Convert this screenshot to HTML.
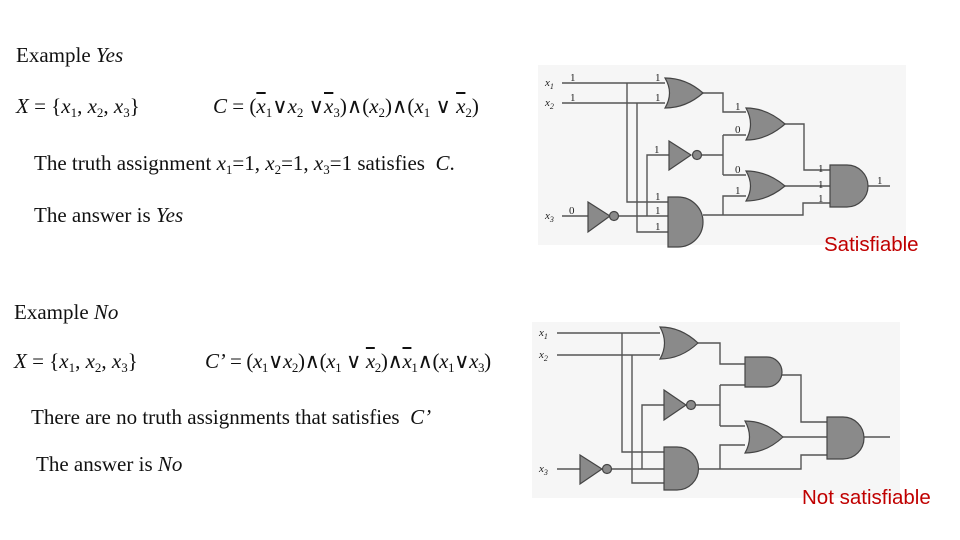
<!DOCTYPE html>
<html><head><meta charset="utf-8"><style>
body{margin:0;width:960px;height:540px;background:#fff;position:relative;overflow:hidden;font-family:"Liberation Serif",serif;color:#111}
.t{position:absolute;font-size:21px;line-height:21px;white-space:nowrap}
i{font-style:italic}
sub{font-size:13px;vertical-align:-4px;line-height:0}
.o{text-decoration:overline}
.r{position:absolute;font-family:"Liberation Sans",sans-serif;color:#c00000;font-size:20.5px;line-height:20px;z-index:5}
svg{position:absolute;left:0;top:0}
</style></head><body>
<svg width="960" height="540" viewBox="0 0 960 540">
<rect x="538" y="65" width="368" height="180" fill="#f6f6f6"/>
<rect x="532" y="322" width="368" height="176" fill="#f6f6f6"/>
<g stroke="#555" stroke-width="1.4" fill="none">
<path d="M562 83H665M562 103H665M703 93H723V112H746M785 124H804V170H830M785 186H830M868 186H890"/>
<path d="M702 155H723M723 135V175M723 135H746M723 175H746"/>
<path d="M703 215H803V203H830M723 215V196H746"/>
<path d="M562 216H588M618 216H668M627 83V202H668M637 103V232H668M647 216V155H669"/>
<path d="M557 333H660M557 355H660M698 343H720V364H745M782 375H801V422H827M783 437H827M864 437H890"/>
<path d="M696 405H720M720 385V426M720 385H745M720 426H745"/>
<path d="M699 469H801V455H827M720 469V445H745"/>
<path d="M557 469H580M612 469H664M622 333V452H664M632 355V483H664M642 469V405H664"/>
</g>
<g fill="#8a8a8a" stroke="#444" stroke-width="1.2">
<path d="M665 78Q686 78 703 93Q686 108 665 108Q674 93 665 78Z"/>
<path d="M746 108Q767 108 785 124Q767 140 746 140Q755 124 746 108Z"/>
<path d="M746 171Q767 171 785 186Q767 201 746 201Q755 186 746 171Z"/>
<path d="M830 165H847A21 21 0 0 1 847 207H830Z"/>
<path d="M668 197H678A25 25 0 0 1 678 247H668Z"/>
<path d="M669 141L691 155L669 170Z"/><circle cx="697" cy="155" r="4.5"/>
<path d="M588 202L610 216L588 232Z"/><circle cx="614" cy="216" r="4.5"/>
<path d="M660 327Q681 327 698 343Q681 359 660 359Q669 343 660 327Z"/>
<path d="M745 357H767A15 15 0 0 1 767 387H745Z"/>
<path d="M745 421Q766 421 783 437Q766 453 745 453Q754 437 745 421Z"/>
<path d="M827 417H843A21 21 0 0 1 843 459H827Z"/>
<path d="M664 447H677A21.5 21.5 0 0 1 677 490H664Z"/>
<path d="M664 390L686 405L664 420Z"/><circle cx="691" cy="405" r="4.5"/>
<path d="M580 455L602 469L580 484Z"/><circle cx="607" cy="469" r="4.5"/>
</g>
<g font-family="Liberation Serif,serif" font-size="11" fill="#222">
<text x="545" y="86" font-style="italic">x<tspan font-size="8" dy="3">1</tspan></text>
<text x="545" y="106" font-style="italic">x<tspan font-size="8" dy="3">2</tspan></text>
<text x="545" y="219" font-style="italic">x<tspan font-size="8" dy="3">3</tspan></text>
<text x="570" y="81">1</text><text x="570" y="101">1</text><text x="569" y="214">0</text>
<text x="655" y="81">1</text><text x="655" y="101">1</text>
<text x="735" y="110">1</text><text x="735" y="133">0</text>
<text x="735" y="173">0</text><text x="735" y="194">1</text>
<text x="654" y="153">1</text>
<text x="655" y="200">1</text><text x="655" y="214">1</text><text x="655" y="230">1</text>
<text x="818" y="172">1</text><text x="818" y="188">1</text><text x="818" y="202">1</text>
<text x="877" y="184">1</text>
<text x="539" y="336" font-style="italic">x<tspan font-size="8" dy="3">1</tspan></text>
<text x="539" y="358" font-style="italic">x<tspan font-size="8" dy="3">2</tspan></text>
<text x="539" y="472" font-style="italic">x<tspan font-size="8" dy="3">3</tspan></text>
</g>
</svg>

<div class="t" style="left:16px;top:45px">Example <i>Yes</i></div>
<div class="t" style="left:16px;top:96px"><i>X</i> = {<i>x</i><sub>1</sub>, <i>x</i><sub>2</sub>, <i>x</i><sub>3</sub>}</div>
<div class="t" style="left:213px;top:96px"><i>C</i> = (<i class="o">x</i><sub>1</sub>∨<i>x</i><sub>2</sub> ∨<i class="o">x</i><sub>3</sub>)∧(<i>x</i><sub>2</sub>)∧(<i>x</i><sub>1</sub> ∨ <i class="o">x</i><sub>2</sub>)</div>
<div class="t" style="left:34px;top:153px">The truth assignment <i>x</i><sub>1</sub>=1, <i>x</i><sub>2</sub>=1, <i>x</i><sub>3</sub>=1 satisfies &nbsp;<i>C</i>.</div>
<div class="t" style="left:34px;top:205px">The answer is <i>Yes</i></div>

<div class="t" style="left:14px;top:302px">Example <i>No</i></div>
<div class="t" style="left:14px;top:351px"><i>X</i> = {<i>x</i><sub>1</sub>, <i>x</i><sub>2</sub>, <i>x</i><sub>3</sub>}</div>
<div class="t" style="left:205px;top:351px;letter-spacing:-0.4px"><i>C’</i> = (<i>x</i><sub>1</sub>∨<i>x</i><sub>2</sub>)∧(<i>x</i><sub>1</sub> ∨ <i class="o">x</i><sub>2</sub>)∧<i class="o">x</i><sub>1</sub>∧(<i>x</i><sub>1</sub>∨<i>x</i><sub>3</sub>)</div>
<div class="t" style="left:31px;top:407px">There are no truth assignments that satisfies &nbsp;<i>C’</i></div>
<div class="t" style="left:36px;top:454px">The answer is <i>No</i></div>

<div class="r" style="left:824px;top:235px">Satisfiable</div>
<div class="r" style="left:802px;top:488px">Not satisfiable</div>
</body></html>
